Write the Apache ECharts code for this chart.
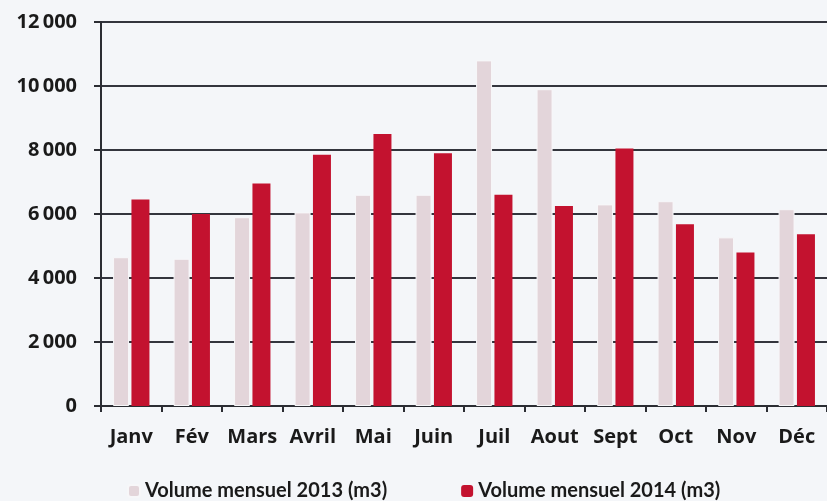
<!DOCTYPE html>
<html lang="fr" style="height: 100%">
<head>
  <meta charset="utf-8">
</head>
<body style="height: 100%; margin: 0; background: #f4f6f9">
  <div id="container" style="width: 827px; height: 501px"></div>

  <script type="text/javascript" src="https://cdn.jsdelivr.net/npm/echarts@6/dist/echarts.min.js"></script>
  <script type="text/javascript">
    // données
    var mois = ['Janv', 'Fév', 'Mars', 'Avril', 'Mai', 'Juin', 'Juil', 'Aout', 'Sept', 'Oct', 'Nov', 'Déc'];
    var vol2013 = [4650, 4600, 5900, 6050, 6600, 6600, 10800, 9900, 6300, 6400, 5270, 6150];
    var vol2014 = [6450, 6000, 6950, 7850, 8500, 7900, 6600, 6250, 8050, 5680, 4800, 5370];
    var yTicks = [0, 2000, 4000, 6000, 8000, 10000, 12000];

    var police = 'Lato, "Open Sans", sans-serif';
    var policeAxe = '"Open Sans", Lato, sans-serif';
    var myChart = echarts.init(document.getElementById('container'), null, { renderer: 'canvas' });

    var option = {
      backgroundColor: '#f4f6f9',
      animation: false,
      grid: { left: 101, top: 22, right: -10, bottom: 95 },
      legend: {
        left: 122,
        top: 476,
        itemWidth: 12,
        itemHeight: 12,
        itemGap: 74,
        textStyle: { fontFamily: police, fontSize: 20, fontWeight: 'bold', color: '#1a1a1a' },
        data: ['Volume mensuel 2013 (m3)', 'Volume mensuel 2014 (m3)']
      },
      xAxis: {
        type: 'category',
        data: mois,
        axisLine: { lineStyle: { color: '#2b2d33', width: 2 } },
        axisTick: { show: true, length: 6, inside: false, lineStyle: { color: '#2b2d33', width: 2 } },
        axisLabel: {
          interval: 0,
          hideOverlap: false,
          margin: 21,
          fontFamily: policeAxe,
          fontSize: 20,
          fontWeight: 'bold',
          color: '#1a1a1a'
        }
      },
      yAxis: {
        type: 'value',
        min: yTicks[0],
        max: yTicks[yTicks.length - 1],
        interval: 2000,
        axisLine: { show: true, lineStyle: { color: '#2b2d33', width: 2 } },
        axisTick: { show: true, length: 7, lineStyle: { color: '#2b2d33', width: 2 } },
        axisLabel: {
          margin: 24,
          fontFamily: policeAxe,
          fontSize: 20,
          fontWeight: 'bold',
          color: '#1a1a1a',
          formatter: function (v) {
            return String(v).replace(/\B(?=(\d{3})+(?!\d))/g, '\u2009');
          }
        },
        splitLine: { lineStyle: { color: '#33353d', width: 2 } }
      },
      series: [
        {
          name: 'Volume mensuel 2013 (m3)',
          type: 'bar',
          data: vol2013,
          barWidth: 16,
          barGap: '15%',
          itemStyle: { color: '#e3d5da', borderColor: '#f7f7f9', borderWidth: 1 }
        },
        {
          name: 'Volume mensuel 2014 (m3)',
          type: 'bar',
          data: vol2014,
          barWidth: 18,
          itemStyle: { color: '#c3122f' }
        }
      ]
    };

    myChart.setOption(option);
    window.addEventListener('resize', myChart.resize);
  </script>
</body>
</html>
